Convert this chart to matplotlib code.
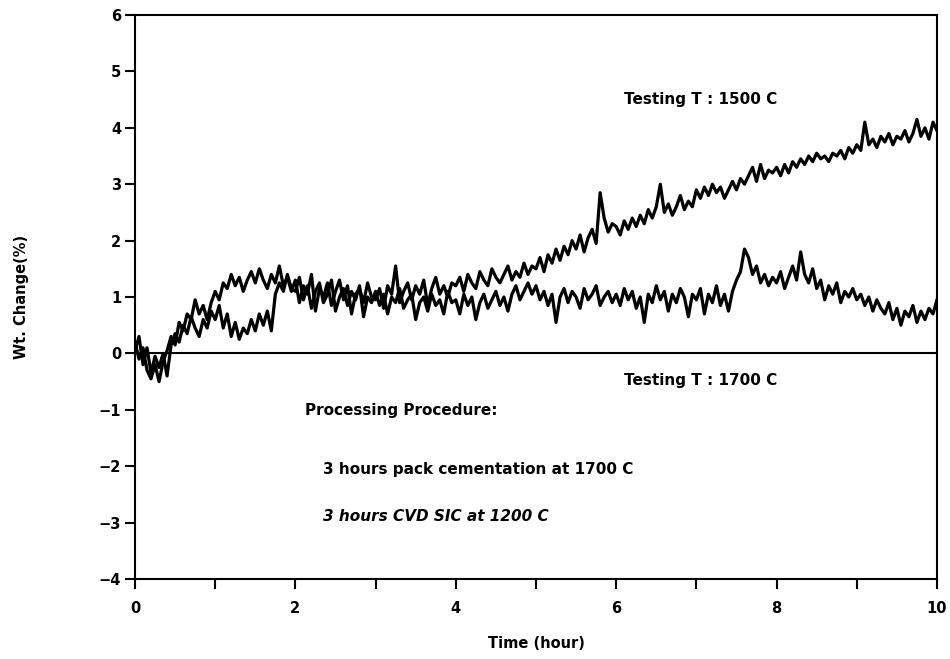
import matplotlib
matplotlib.use("Agg")
import matplotlib.pyplot as plt
import numpy as np

# time axis (hours), one reading every 0.05 h
time_h = np.linspace(0, 10, 201)

# weight change (%), testing T = 1500 C
wt_1500 = [
    0.20, -0.10, 0.10, -0.30, -0.45, -0.20, -0.50, -0.15, 0.05, 0.30, 0.15, 0.55, 0.40, 0.70, 0.60, 0.95, 0.70, 0.85, 0.60, 0.90,
    1.10, 0.95, 1.25, 1.15, 1.40, 1.20, 1.35, 1.10, 1.30, 1.45, 1.25, 1.50, 1.30, 1.15, 1.40, 1.25, 1.55, 1.20, 1.35, 1.10,
    1.30, 0.90, 1.20, 1.05, 1.40, 0.75, 1.15, 1.00, 1.25, 0.85, 1.10, 1.30, 0.95, 1.20, 0.70, 1.05, 1.15, 0.90, 1.25, 1.00,
    0.95, 1.15, 0.80, 1.20, 1.05, 1.55, 0.90, 1.10, 1.25, 0.95, 1.20, 1.05, 1.30, 0.85, 1.15, 1.35, 1.05, 1.20, 1.00, 1.25,
    1.20, 1.35, 1.10, 1.40, 1.25, 1.15, 1.45, 1.30, 1.20, 1.50, 1.35, 1.25, 1.40, 1.55, 1.30, 1.45, 1.35, 1.60, 1.40, 1.55,
    1.50, 1.70, 1.45, 1.75, 1.60, 1.85, 1.65, 1.90, 1.75, 2.00, 1.85, 2.10, 1.80, 2.05, 2.20, 1.95, 2.85, 2.40, 2.15, 2.30,
    2.25, 2.10, 2.35, 2.20, 2.40, 2.25, 2.45, 2.30, 2.55, 2.40, 2.60, 3.00, 2.50, 2.65, 2.45, 2.60, 2.80, 2.55, 2.70, 2.60,
    2.90, 2.75, 2.95, 2.80, 3.00, 2.85, 2.95, 2.75, 2.90, 3.05, 2.90, 3.10, 3.00, 3.15, 3.30, 3.05, 3.35, 3.10, 3.25, 3.20,
    3.30, 3.15, 3.35, 3.20, 3.40, 3.30, 3.45, 3.35, 3.50, 3.40, 3.55, 3.45, 3.50, 3.40, 3.55, 3.50, 3.60, 3.45, 3.65, 3.55,
    3.70, 3.60, 4.10, 3.70, 3.80, 3.65, 3.85, 3.75, 3.90, 3.70, 3.85, 3.80, 3.95, 3.75, 3.90, 4.15, 3.85, 4.00, 3.80, 4.10,
    3.95,
]

# testing T = 1700 C
wt_1700 = [
    0.05, 0.30, -0.20, 0.10, -0.35, -0.05, -0.25, 0.00, -0.40, 0.15, 0.35, 0.20, 0.50, 0.35, 0.65, 0.45, 0.30, 0.60, 0.45, 0.75,
    0.60, 0.85, 0.45, 0.70, 0.30, 0.55, 0.25, 0.45, 0.35, 0.60, 0.40, 0.70, 0.50, 0.75, 0.40, 1.05, 1.25, 1.10, 1.40, 1.15,
    1.10, 1.35, 0.95, 1.20, 0.80, 1.10, 1.25, 0.90, 1.05, 1.30, 0.75, 1.00, 1.15, 0.85, 1.10, 0.95, 1.20, 0.65, 1.00, 0.90,
    1.10, 0.85, 1.05, 0.70, 1.00, 0.90, 1.15, 0.80, 0.95, 1.05, 0.60, 0.90, 1.00, 0.75, 1.05, 0.85, 0.95, 0.70, 1.10, 0.90,
    0.95, 0.70, 1.05, 0.85, 1.00, 0.60, 0.90, 1.05, 0.80, 0.95, 1.10, 0.85, 1.00, 0.75, 1.05, 1.20, 0.95, 1.10, 1.25, 1.05,
    1.20, 0.95, 1.10, 0.85, 1.05, 0.55, 1.00, 1.15, 0.90, 1.10, 1.00, 0.80, 1.15, 0.95, 1.05, 1.20, 0.85, 1.00, 1.10, 0.90,
    1.05, 0.85, 1.15, 0.95, 1.10, 0.80, 1.00, 0.55, 1.05, 0.90, 1.20, 0.95, 1.10, 0.75, 1.05, 0.90, 1.15, 1.00, 0.65, 1.05,
    0.95, 1.15, 0.70, 1.05, 0.90, 1.20, 0.85, 1.05, 0.75, 1.10, 1.30, 1.45, 1.85, 1.70, 1.40, 1.55, 1.25, 1.40, 1.20, 1.35,
    1.25, 1.45, 1.15, 1.35, 1.55, 1.30, 1.80, 1.40, 1.25, 1.50, 1.15, 1.30, 0.95, 1.20, 1.05, 1.25, 0.90, 1.10, 1.00, 1.15,
    0.95, 1.05, 0.85, 1.00, 0.75, 0.95, 0.80, 0.70, 0.90, 0.60, 0.80, 0.50, 0.75, 0.65, 0.85, 0.55, 0.75, 0.60, 0.80, 0.70,
    0.95,
]

x_ticks = [0, 2, 4, 6, 8, 10]
y_ticks = [-4, -3, -2, -1, 0, 1, 2, 3, 4, 5, 6]

plt.rcParams['font.family'] = ['DejaVu Sans']
plt.rcParams['font.weight'] = 'bold'

fig = plt.figure(figsize=(9.5, 6.59), dpi=100)
ax = fig.add_axes([0.1421, 0.1214, 0.8442, 0.8558])

ax.plot(time_h, wt_1500, color='black', lw=2.3)
ax.plot(time_h, wt_1700, color='black', lw=2.3)
ax.axhline(0, color='black', lw=1.5)

ax.set_xlim(0, 10)
ax.set_ylim(-4, 6)
ax.set_xticks(x_ticks)
ax.set_xticks([1, 3, 5, 7, 9], minor=True)
ax.set_yticks(y_ticks)
ax.tick_params(axis='both', which='both', direction='out', length=7, width=1.5,
               labelsize=10.5)
ax.tick_params(axis='y', pad=3)
ax.tick_params(axis='x', which='both', pad=9)
for lab in ax.get_xticklabels() + ax.get_yticklabels():
    lab.set_fontweight('bold')
for sp in ax.spines.values():
    sp.set_linewidth(1.5)

ax.set_xlabel('Time (hour)', fontsize=10.5, fontweight='bold', labelpad=14)
ax.set_ylabel('Wt. Change(%)', fontsize=10.5, fontweight='bold', labelpad=50)

ax.text(6.1, 4.5, 'Testing T : 1500 C', fontsize=11, fontweight='bold', va='center')
ax.text(6.1, -0.48, 'Testing T : 1700 C', fontsize=11, fontweight='bold', va='center')
ax.text(2.12, -1.02, 'Processing Procedure:', fontsize=11, fontweight='bold', va='center')
ax.text(2.34, -2.05, '3 hours pack cementation at 1700 C', fontsize=11, fontweight='bold', va='center')
ax.text(2.34, -2.9, '3 hours CVD SIC at 1200 C', fontsize=11, fontweight='bold',
        style='italic', va='center')

fig.savefig('out.png', dpi=100)
